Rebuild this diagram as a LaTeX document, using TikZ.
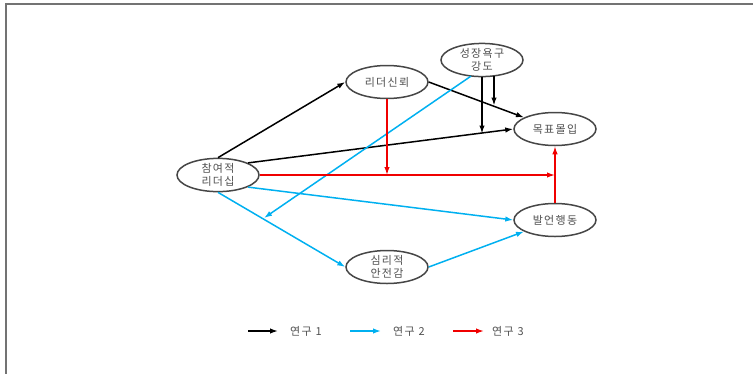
\documentclass[tikz,border=0pt]{standalone}
\usepackage{fontspec}
\setmainfont[LetterSpace=12]{Noto Sans CJK KR}
\usetikzlibrary{shapes.geometric,arrows.meta,calc}
\definecolor{studyblue}{RGB}{0,176,240}
\definecolor{studyred}{RGB}{240,0,0}
\definecolor{rim}{RGB}{70,70,70}
\definecolor{txt}{RGB}{80,80,80}
\begin{document}
\begin{tikzpicture}[x=1pt,y=-1pt,
  var/.style={ellipse,draw=rim,line width=1.5pt,fill=white,minimum width=82pt,minimum height=33pt,
    inner sep=0pt,align=center,text=txt,font=\fontsize{11}{13.5}\selectfont},
  link/.style={line width=1.5pt,-{Latex[length=8pt,width=5.5pt]}},
  s1/.style={link,black},
  s2/.style={link,studyblue},
  s3/.style={link,studyred},
  legtext/.style={anchor=west,inner sep=0pt,text=txt,font=\fontsize{11}{12}\selectfont}]
\useasboundingbox (0,0) rectangle (753,373);
% page frame (right and bottom edges fall outside the page)
\draw[black!55,line width=1.5pt] (6,4) rectangle (800,420);

% variables
\node[var] (pl)     at (218,175) {참여적\\리더십};
\node[var] (trust)  at (387,82)  {리더신뢰};
\node[var] (growth) at (482,60)  {성장욕구\\강도};
\node[var] (goal)   at (555,129) {목표몰입};
\node[var] (voice)  at (555,220) {발언행동};
\node[var] (calm)   at (387,267) {심리적\\안전감};

% study 1 paths
\draw[s1] (pl.north) -- (trust.west);
\draw[s1] (trust.east) -- (goal);
\draw[s1] (pl.22) -- (goal.west);
\coordinate (g1s) at ($(growth.south)+(0,-0.6)$);
\coordinate (g1e) at (482,133.5);
\draw[s1] (g1s) -- (g1e);
\coordinate (g2s) at ($(growth.south)+(12,-1.2)$);
\coordinate (g2e) at (494,105.5);
\draw[s1] (g2s) -- (g2e);

% study 2 paths
\draw[s2] (pl.south) -- (calm.west);
\draw[s2] (pl.-22) -- (voice.west);
\draw[s2] (calm.east) -- (voice);
\coordinate (g3s) at ($(growth.south)+(-11,-1.2)$);
\coordinate (g3e) at (264,218);
\draw[s2] (g3s) -- (g3e);

% study 3 paths
\draw[s3] (pl.east) -- (goal.south |- pl.east);
\draw[s3] (trust.south) -- (trust.south |- pl.east);
\draw[s3] (voice.north) -- (goal.south);

% legend
\coordinate (l1a) at (248,331); \coordinate (l1b) at (278,331);
\coordinate (l2a) at (350,331); \coordinate (l2b) at (381,331);
\coordinate (l3a) at (453,331); \coordinate (l3b) at (484,331);
\draw[s1] (l1a) -- (l1b);
\draw[s2] (l2a) -- (l2b);
\draw[s3] (l3a) -- (l3b);
\node[legtext] (t1) at (290,331) {연구 1};
\node[legtext] (t2) at (393,331) {연구 2};
\node[legtext] (t3) at (492,331) {연구 3};
\end{tikzpicture}
\end{document}
